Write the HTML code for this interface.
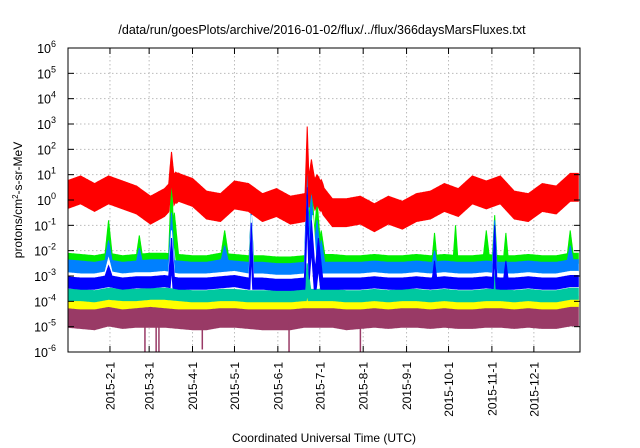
<!DOCTYPE html>
<html><head><meta charset="utf-8">
<style>
body{margin:0;background:#fff;}
svg{display:block;font-family:"Liberation Sans",sans-serif;}
</style></head>
<body>
<svg id="chart" width="640" height="448" viewBox="0 0 640 448">
<rect width="640" height="448" fill="#fff"/>
<text x="322" y="34" font-size="12.5" text-anchor="middle">/data/run/goesPlots/archive/2016-01-02/flux/../flux/366daysMarsFluxes.txt</text>
<g id="grid"></g>
<g id="series"></g>
<rect x="68" y="48" width="512" height="304" fill="none" stroke="#000" stroke-width="1"/>
<g id="axes"></g>
<text transform="translate(22,200) rotate(-90)" font-size="12" text-anchor="middle">protons/cm<tspan dy="-4" font-size="8">2</tspan><tspan dy="4">-s-sr-MeV</tspan></text>
<text x="324" y="442" font-size="12" text-anchor="middle">Coordinated Universal Time (UTC)</text>
</svg>
<script>
// sample days (every 10 days from Jan 1 2015)
const sampleDays = [0,10,20,30,40,50,60,70,80,90,100,110,120,130,140,150,160,170,180,190,200,210,220,230,240,250,260,270,280,290,300,310,320,330,340,350,360];
// log10 flux centers
const red    = [0.2,0.4,0.1,0.4,0.2,0.0,-0.4,-0.1,0.5,0.3,-0.2,-0.3,0.2,0.1,-0.3,-0.1,-0.4,-0.3,0.2,-0.5,-0.5,-0.4,-0.7,-0.4,-0.6,-0.3,-0.2,0.1,-0.1,0.4,0.2,0.4,-0.2,-0.3,0.1,0.0,0.5];
const green  = [-2.3,-2.35,-2.4,-2.3,-2.4,-2.35,-2.3,-2.3,-2.35,-2.4,-2.4,-2.3,-2.35,-2.4,-2.4,-2.45,-2.45,-2.4,-2.35,-2.35,-2.4,-2.4,-2.35,-2.4,-2.4,-2.35,-2.4,-2.35,-2.4,-2.4,-2.35,-2.4,-2.4,-2.35,-2.4,-2.4,-2.3];
const lblue  = [-2.6,-2.65,-2.7,-2.6,-2.7,-2.65,-2.6,-2.6,-2.65,-2.7,-2.7,-2.6,-2.65,-2.7,-2.7,-2.75,-2.75,-2.7,-2.7,-2.7,-2.7,-2.7,-2.65,-2.7,-2.7,-2.65,-2.7,-2.65,-2.7,-2.7,-2.65,-2.7,-2.7,-2.65,-2.7,-2.7,-2.6];
const white  = [-2.95,-3.0,-3.0,-2.9,-3.0,-2.95,-2.95,-2.9,-3.0,-3.0,-3.0,-2.95,-2.9,-3.0,-3.0,-3.05,-3.05,-3.0,-3.0,-3.0,-3.0,-3.0,-2.95,-3.0,-3.0,-2.95,-3.0,-2.95,-3.0,-3.0,-2.95,-3.0,-3.0,-2.95,-3.0,-3.0,-2.9];
const blue   = [-3.25,-3.3,-3.3,-3.2,-3.3,-3.25,-3.25,-3.2,-3.3,-3.3,-3.3,-3.25,-3.2,-3.3,-3.3,-3.35,-3.35,-3.3,-3.3,-3.3,-3.3,-3.3,-3.25,-3.3,-3.3,-3.25,-3.3,-3.25,-3.3,-3.3,-3.25,-3.3,-3.3,-3.25,-3.3,-3.3,-3.2];
const teal   = [-3.75,-3.75,-3.8,-3.7,-3.75,-3.75,-3.7,-3.7,-3.75,-3.8,-3.8,-3.75,-3.75,-3.8,-3.8,-3.8,-3.8,-3.75,-3.75,-3.75,-3.8,-3.8,-3.75,-3.8,-3.75,-3.75,-3.8,-3.75,-3.8,-3.8,-3.75,-3.75,-3.8,-3.75,-3.8,-3.8,-3.7];
const yellow = [-4.05,-4.1,-4.1,-4.0,-4.1,-4.05,-4.0,-4.05,-4.1,-4.1,-4.1,-4.05,-4.05,-4.1,-4.1,-4.1,-4.1,-4.05,-4.05,-4.05,-4.1,-4.1,-4.05,-4.1,-4.05,-4.05,-4.1,-4.05,-4.1,-4.1,-4.05,-4.05,-4.1,-4.05,-4.1,-4.1,-4.0];
const purple = [-4.6,-4.65,-4.7,-4.55,-4.65,-4.6,-4.6,-4.6,-4.65,-4.7,-4.7,-4.6,-4.6,-4.65,-4.7,-4.7,-4.7,-4.6,-4.6,-4.6,-4.7,-4.65,-4.6,-4.65,-4.6,-4.6,-4.65,-4.6,-4.65,-4.65,-4.6,-4.6,-4.65,-4.6,-4.65,-4.65,-4.55];
// spikes: [day, top log10, half-width days]
const redSpikes   = [[75,1.9,2],[78,1.1,3],[172,2.9,1.5],[175,1.6,3],[179,1.0,3],[182,0.8,2]];
const greenSpikes = [[30,-0.8,2.5],[52,-1.4,2],[75,1.0,2],[77,-0.5,3],[113,-1.2,2.5],[132,-0.6,1.5],[172,2.0,1.5],[175,1.0,3],[179,0.0,3],[182,-1.2,2.5],[263,-1.3,1.5],[278,-1.0,1.5],[300,-1.2,2],[306,-0.6,1.5],[314,-1.3,1.5],[360,-1.2,2]];
const lblueSpikes = [[30,-1.6,2.5],[52,-1.9,2],[75,-0.5,2],[113,-1.8,2.5],[132,-0.3,1.5],[172,1.0,2],[175,0.2,3],[179,-0.8,3],[182,-1.6,2.5],[263,-2.0,1.5],[306,-0.8,1.5],[360,-1.8,2]];
const whiteSpikes = [[30,-2.3,2.5],[75,-1.2,2],[132,-0.6,1.5],[172,0.4,2],[176,-0.6,3],[306,-1.2,1.5]];
const blueSpikes  = [[30,-2.6,2.5],[75,-1.5,2],[132,-0.9,1.5],[172,0.5,2],[175,-0.8,3],[180,-1.5,3],[263,-2.4,1.5],[306,-1.0,1.5],[314,-2.4,1.5]];
const tealSpikes  = [[172,-2.5,2.5],[306,-2.8,1.5]];
const purpleDrops = [[56,-6],[64,-6],[66,-6],[97,-5.9],[159,-6],[210,-6]];
const yTickExps = [-6,-5,-4,-3,-2,-1,0,1,2,3,4,5,6];
const monthLabels = ["2015-2-1","2015-3-1","2015-4-1","2015-5-1","2015-6-1","2015-7-1","2015-8-1","2015-9-1","2015-10-1","2015-11-1","2015-12-1"];
const monthDays = [31,59,90,120,151,181,212,243,273,304,334];

const NS="http://www.w3.org/2000/svg";
const L=68,R=580,T=48,B=352;
const xS=d=>66.6+d*1.399;
const yS=v=>T+(6-v)*(B-T)/12;
function mk(tag,attrs,parent){const e=document.createElementNS(NS,tag);for(const k in attrs)e.setAttribute(k,attrs[k]);parent.appendChild(e);return e;}
const grid=document.getElementById('grid'),axes=document.getElementById('axes'),ser=document.getElementById('series');

yTickExps.forEach(e=>{
  const y=yS(e);
  if(e>-6&&e<6){const g=mk('line',{x1:L,x2:R,y1:y,y2:y,stroke:'#bbb','stroke-dasharray':'1.5,2.5'},grid);
  
  }
  [[L,L+6],[R-6,R]].forEach(p=>{const t=mk('line',{x1:p[0],x2:p[1],y1:y,y2:y,stroke:'#000'},axes);
  
  });
  const tx=mk('text',{x:56,y:y+5,'font-size':'12.5','text-anchor':'end'},axes);
  
  
  tx.textContent='10';
  const sp=mk('tspan',{dy:-6,'font-size':'9'},tx);sp.textContent=String(e);
});
monthDays.forEach((d,i)=>{
  const x=xS(d);
  const g=mk('line',{x1:x,x2:x,y1:T,y2:B,stroke:'#bbb','stroke-dasharray':'1.5,2.5'},grid);
  
  
  [[B,B-6],[T,T+6]].forEach(p=>{const t=mk('line',{x1:x,x2:x,y1:p[0],y2:p[1],stroke:'#000'},axes);
  
  });
  const tx=mk('text',{transform:`translate(${x+4.5},362) rotate(-90)`,'font-size':'12','text-anchor':'end'},axes);
  
  
  tx.textContent=monthLabels[i];
});

function base(arr,d){
  let i=Math.min(Math.floor(d/10),arr.length-2);const f=(d-sampleDays[i])/10;
  return arr[i]+(arr[i+1]-arr[i])*Math.max(0,Math.min(1,f));
}
function band(arr,spikes,half,color,name){
  const top=[],bot=[];
  for(let d=1;d<=365.9;d+=0.25){
    const c=base(arr,d);
    let t=c+half,b=c-half;
    spikes.forEach(s=>{const dd=Math.abs(d-s[0]);if(dd<s[2]){const pv=s[1]-(s[1]-(c+half))*dd/s[2];if(pv>t)t=pv;const bv=pv-1.2;if(bv>b)b=bv;}});
    const x=Math.min(R,Math.max(L,xS(d)));
    top.push([x,Math.max(T,yS(t))]);bot.push([x,Math.min(B,yS(b))]);
  }
  const pts=top.concat(bot.reverse()).map(p=>p[0].toFixed(1)+','+p[1].toFixed(1)).join(' ');
  const p=mk('polygon',{points:pts,fill:color,stroke:color,'stroke-width':'1'},ser);
  
  
}
band(purple,[],0.42,'#993a66','series-purple');
purpleDrops.forEach(s=>{const l=mk('line',{x1:xS(s[0]),x2:xS(s[0]),y1:yS(-4.8),y2:Math.min(B,yS(s[1])),stroke:'#993a66','stroke-width':'1.5'},ser);
  
  });
band(yellow,[],0.2,'#ffff00','series-yellow');
band(teal,tealSpikes,0.22,'#00c8a0','series-teal');
band(green,greenSpikes,0.2,'#00ee00','series-green');
band(lblue,lblueSpikes,0.24,'#0080ff','series-lightblue');
band(white,whiteSpikes,0.08,'#ffffff','series-white');
band(blue,blueSpikes,0.22,'#0000ff','series-blue');
band(red,redSpikes,0.55,'#ff0000','series-red');
</script>
</body></html>
